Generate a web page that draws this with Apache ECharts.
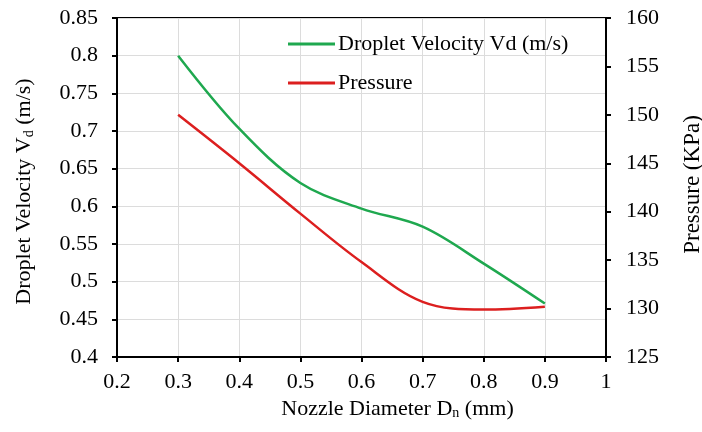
<!DOCTYPE html>
<html>
<head>
<meta charset="utf-8">
<script src="https://cdn.jsdelivr.net/npm/echarts@6/dist/echarts.min.js"></script>
<style>
  html, body { margin: 0; padding: 0; background: #fff; }
  #chart { width: 702px; height: 432px; }
</style>
</head>
<body>
<div id="chart"></div>
<script>
// nozzle diameter (mm)
var diameters = [0.3, 0.4, 0.5, 0.6, 0.7, 0.8, 0.9];
// droplet velocity Vd (m/s)
var velocity = [0.8, 0.703, 0.631, 0.597, 0.573, 0.524, 0.471];
// pressure (KPa)
var pressure = [150, 145, 139.8, 134.8, 130.7, 129.9, 130.2];

var font = 'Liberation Serif, Times New Roman, serif';
var fs = 22;

function pairs(xs, ys) {
  return xs.map(function (x, i) { return [x, ys[i]]; });
}

var chart = echarts.init(document.getElementById('chart'));
chart.setOption({
  animation: false,
  textStyle: { fontFamily: font, color: '#000' },
  grid: {
    left: 117, right: 96, top: 18, bottom: 75,
    outerBoundsMode: 'none',
    show: true, borderColor: '#000', borderWidth: 2
  },
  legend: {
    orient: 'vertical',
    left: 283, top: 28,
    itemWidth: 47, itemHeight: 3, itemGap: 17,
    icon: 'rect',
    textStyle: { fontFamily: font, fontSize: fs, color: '#000', padding: [0, 0, 0, -2] },
    data: ['Droplet Velocity Vd (m/s)', 'Pressure']
  },
  xAxis: {
    type: 'value', min: 0.2, max: 1, interval: 0.1,
    name: '{n|Nozzle Diameter D}{s|n}{n| (mm)}',
    nameLocation: 'middle', nameGap: 40,
    nameTextStyle: {
      padding: [0, 0, 0, 72],
      rich: {
        n: { fontFamily: font, fontSize: fs, color: '#000' },
        s: { fontFamily: font, fontSize: 14, color: '#000', verticalAlign: 'bottom', padding: [9, 0, 0, 0] }
      }
    },
    axisLine: { lineStyle: { color: '#000', width: 2 } },
    axisTick: { show: true, length: 5, lineStyle: { color: '#000', width: 2 } },
    axisLabel: { fontFamily: font, fontSize: fs, color: '#000', margin: 14 },
    splitLine: { show: true, lineStyle: { color: '#dcdcdc', width: 1 } }
  },
  yAxis: [
    {
      type: 'value', min: 0.4, max: 0.85, interval: 0.05,
      name: '{n|Droplet Velocity V}{s|d}{n| (m/s)}',
      nameLocation: 'middle', nameGap: 81, nameRotate: 90,
      nameTextStyle: {
        padding: [0, 8, 0, 0],
        rich: {
          n: { fontFamily: font, fontSize: fs, color: '#000' },
          s: { fontFamily: font, fontSize: 14, color: '#000', verticalAlign: 'bottom', padding: [9, 0, 0, 0] }
        }
      },
      axisLine: { show: true, lineStyle: { color: '#000', width: 2 } },
      axisTick: { show: true, length: 5, lineStyle: { color: '#000', width: 2 } },
      axisLabel: { fontFamily: font, fontSize: fs, color: '#000', margin: 19 },
      splitLine: { show: true, lineStyle: { color: '#dcdcdc', width: 1 } }
    },
    {
      type: 'value', min: 125, max: 160, interval: 5,
      position: 'right',
      name: 'Pressure (KPa)',
      nameLocation: 'middle', nameGap: 75, nameRotate: 90,
      nameTextStyle: { fontFamily: font, fontSize: 23, color: '#000', padding: [0, 0, 0, 6] },
      axisLine: { show: true, lineStyle: { color: '#000', width: 2 } },
      axisTick: { show: true, length: 5, lineStyle: { color: '#000', width: 2 } },
      axisLabel: { fontFamily: font, fontSize: fs, color: '#000', margin: 20 },
      splitLine: { show: false }
    }
  ],
  series: [
    {
      name: 'Droplet Velocity Vd (m/s)',
      type: 'line', yAxisIndex: 0,
      data: pairs(diameters, velocity),
      smooth: 0.35, showSymbol: false, symbol: 'none',
      lineStyle: { color: '#1fa84f', width: 2.5 },
      itemStyle: { color: '#1fa84f' }
    },
    {
      name: 'Pressure',
      type: 'line', yAxisIndex: 1,
      data: pairs(diameters, pressure),
      smooth: 0.35, showSymbol: false, symbol: 'none',
      lineStyle: { color: '#dc1f1f', width: 2.5 },
      itemStyle: { color: '#dc1f1f' }
    }
  ]
});
</script>
</body>
</html>
